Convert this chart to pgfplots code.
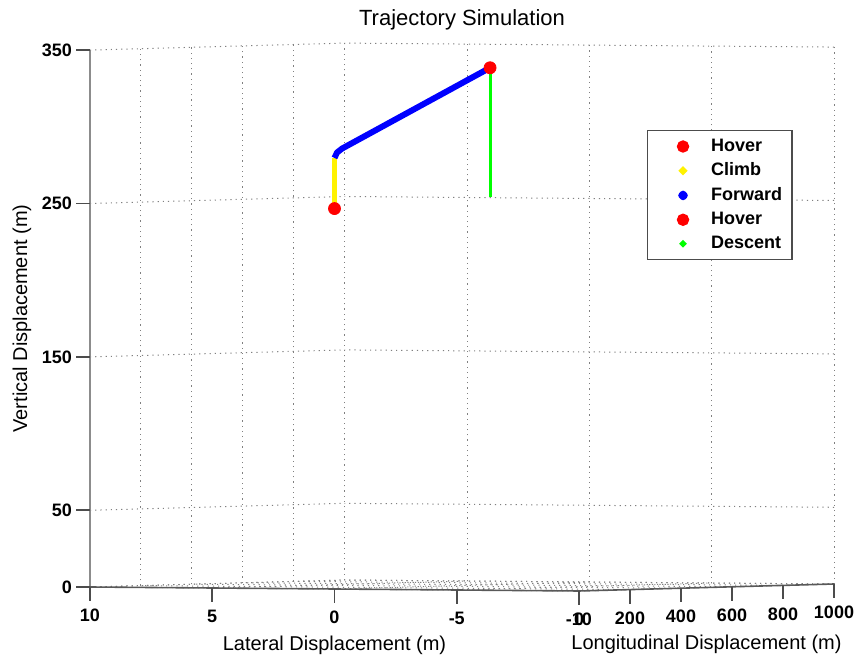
\documentclass[border=0pt]{standalone}
\usepackage{fontspec}
\setmainfont{Liberation Sans}
\usepackage{pgfplots}
\pgfplotsset{compat=1.18}
\begin{document}
\begin{tikzpicture}
\begin{axis}[
    clip=false,
    x={(12.225pt,-0.1pt)}, x dir=reverse,
    y={(0.1275pt,0.0035pt)},
    z={(0pt,0.767pt)},
    xmin=-10, xmax=10, ymin=0, ymax=1000, zmin=0, zmax=350,
    xtick={-10,-5,0,5,10},
    ytick={0,200,400,600,800,1000},
    ztick={0,50,150,250,350},
    grid=major,
    grid style={gray, line width=0.5pt, dash pattern=on 0.6pt off 2pt},
    axis line style={draw=none},
    major tick length=5pt,
    tick style={draw=none},
    ticklabel style={font=\fontsize{9}{10}\selectfont\bfseries},
    xticklabel style={anchor=north, yshift=-7.5pt},
    yticklabel style={anchor=north, yshift=-7.5pt},
    zticklabel style={xshift=-5.5pt},
    /pgf/number format/assume math mode=true,
    /pgf/number format/1000 sep={},
    xlabel={Lateral Displacement (m)},
    ylabel={Longitudinal Displacement (m)},
    zlabel={Vertical Displacement (m)},
    label style={font=\fontsize{11}{12}\selectfont},
    every axis x label/.style={at={(axis cs:0,0,0)}, anchor=center, yshift=-28pt},
    every axis y label/.style={at={(axis cs:-10,500,0)}, anchor=center, yshift=-28.5pt},
    every axis z label/.style={at={(axis cs:10,0,175)}, anchor=center, xshift=-34pt, rotate=90},
    title={Trajectory Simulation},
    title style={font=\fontsize{11}{12}\selectfont, yshift=-3pt},
    legend style={at={(axis description cs:0.749,0.841)}, anchor=north west,
        draw=black!70, line width=0.6pt,
        font=\fontsize{9}{10}\selectfont\bfseries,
        row sep=0.3pt},
    legend cell align=left,
]
\addplot3[red, only marks, mark=*, mark size=3pt,
    legend image code/.code={\path (0,0) (0.83cm,0); \fill[red] (0.46cm,0) circle (2.8pt);}]
    coordinates {(0,0,248)};
\addlegendentry{Hover}
\addplot3[yellow, line width=2pt,
    legend image code/.code={\path (0,0) (0.83cm,0); \fill[yellow] (0.46cm,0) circle (0.9pt);}]
    coordinates {(0,0,248) (0,0,281)};
\addlegendentry{Climb}
\addplot3[blue, line width=3pt, line join=round,
    legend image code/.code={\path (0,0) (0.83cm,0); \fill[blue] (0.46cm,0) circle (0.9pt);}]
    coordinates {(0,0,281) (0,10,284.5) (0,30,287) (0,610,337)};
\addlegendentry{Forward}
\addplot3[red, only marks, mark=*, mark size=3pt,
    legend image code/.code={\path (0,0) (0.83cm,0); \fill[red] (0.46cm,0) circle (2.8pt);}]
    coordinates {(0,610,337)};
\addlegendentry{Hover}
\addplot3[green, line width=1.5pt,
    legend image code/.code={\path (0,0) (0.83cm,0); \fill[green] (0.46cm,0) circle (0.9pt);}]
    coordinates {(0,610,337) (0,610,253)};
\addlegendentry{Descent}
% axis lines as in the original figure
\draw[black!45, line width=1pt] (axis cs:10,0,0) -- (axis cs:10,0,350);
\draw[black!65, line width=0.8pt] (axis cs:10,0,0) -- (axis cs:-10,0,0) -- (axis cs:-10,1000,0);
% tick positions, drawn after the axis
\coordinate (xa) at (axis cs:10,0,0);
\coordinate (xb) at (axis cs:5,0,0);
\coordinate (xc) at (axis cs:0,0,0);
\coordinate (xd) at (axis cs:-5,0,0);
\coordinate (xe) at (axis cs:-10,0,0);
\coordinate (ya) at (axis cs:-10,200,0);
\coordinate (yb) at (axis cs:-10,400,0);
\coordinate (yc) at (axis cs:-10,600,0);
\coordinate (yd) at (axis cs:-10,800,0);
\coordinate (ye) at (axis cs:-10,1000,0);
\coordinate (za) at (axis cs:10,0,50);
\coordinate (zb) at (axis cs:10,0,150);
\coordinate (zc) at (axis cs:10,0,250);
\coordinate (zd) at (axis cs:10,0,350);
\coordinate (O) at (axis cs:10,0,0);
\end{axis}
\foreach \p in {xa,xb,xc,xd,xe,ya,yb,yc,yd,ye}
    \draw[black!70, line width=0.9pt] (\p) -- ++(0pt,-7pt);
\foreach \p in {xa,za,zb,zc,zd}
    \draw[black!70, line width=0.9pt] (\p) -- ++(-7pt,0pt);
\pgfresetboundingbox
\path[use as bounding box] (O) ++(-45pt,-37.5pt) rectangle ++(430pt,331pt);
\end{tikzpicture}
\end{document}
